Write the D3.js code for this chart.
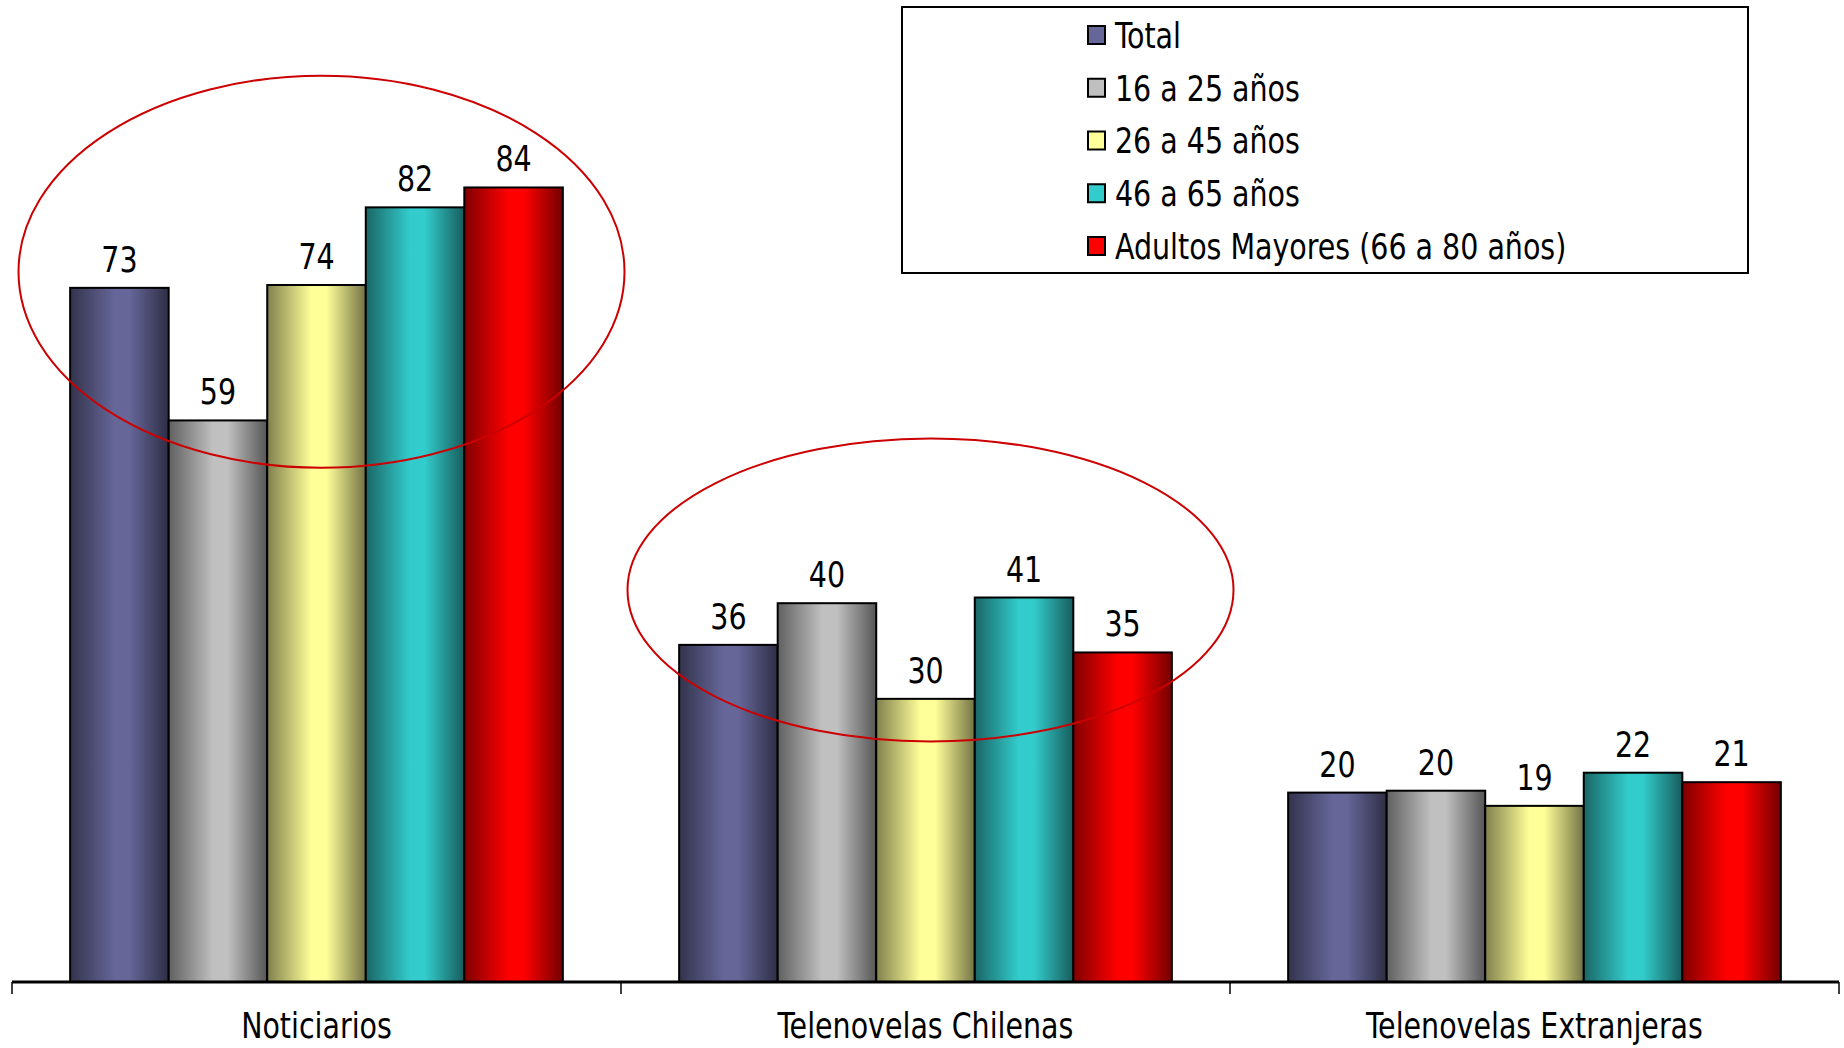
<!DOCTYPE html>
<html>
<head>
<meta charset="utf-8">
<script src="https://cdn.jsdelivr.net/npm/d3@7"></script>
<style>
  html, body { margin: 0; padding: 0; background: #fff; }
  svg { display: block; }
  text { font-family: "DejaVu Sans Condensed", "DejaVu Sans", sans-serif; fill: #000; }
</style>
</head>
<body>
<svg id="chart" width="1844" height="1048"></svg>
<script>
// ---- data ----
const categories = ["Noticiarios", "Telenovelas Chilenas", "Telenovelas Extranjeras"];
const seriesNames = ["Total", "16 a 25 años", "26 a 45 años", "46 a 65 años", "Adultos Mayores (66 a 80 años)"];
const totalValues   = [73.3, 35.6, 20.0];
const age16Values   = [59.3, 40.0, 20.2];
const age26Values   = [73.6, 29.9, 18.6];
const age46Values   = [81.8, 40.6, 22.1];
const mayoresValues = [83.9, 34.8, 21.1];
const seriesValues = [totalValues, age16Values, age26Values, age46Values, mayoresValues];
// highlighted groups (category, value at ellipse centre, vertical half-extent in value units)
const highlights = [
  { cat: "Noticiarios", center: 75, half: 20.7 },
  { cat: "Telenovelas Chilenas", center: 41.4, half: 16.0 }
];

// ---- styles ----
const baseColors = ["#666699", "#c0c0c0", "#ffff99", "#33cccc", "#ff0000"];
const SX = 0.88; // horizontal squeeze of the narrow label font

(function () {
const svg = d3.select("#chart");
const mLeft = 12, mRight = 1839, mTop = 35, mBottom = 982;

const x0 = d3.scaleBand().domain(categories).range([mLeft, mRight]).padding(0);
const x1 = d3.scaleBand().domain(seriesNames).range([0, x0.bandwidth()]).paddingInner(0).paddingOuter(0.59);
const y = d3.scaleLinear().domain([0, 100]).range([mBottom, mTop]);

const place = (x, yy) => `translate(${x},${yy}) scale(${SX},1)`;

// gradients
const defs = svg.append("defs");
seriesNames.forEach((s, i) => {
  const c = d3.color(baseColors[i]);
  const g = defs.append("linearGradient").attr("id", "grad" + i)
    .attr("x1", "0%").attr("x2", "100%").attr("y1", "0%").attr("y2", "0%");
  const dark = d3.interpolateRgb(c, "#000")(0.5);
  const dark2 = d3.interpolateRgb(c, "#000")(0.55);
  g.append("stop").attr("offset", "0%").attr("stop-color", dark);
  g.append("stop").attr("offset", "45%").attr("stop-color", c.formatHex());
  g.append("stop").attr("offset", "60%").attr("stop-color", c.formatHex());
  g.append("stop").attr("offset", "100%").attr("stop-color", dark2);
});

// bars
const rows = [];
categories.forEach((cat, ci) => {
  seriesNames.forEach((s, si) => rows.push({ cat, s, si, v: seriesValues[si][ci] }));
});

svg.append("g").selectAll("rect").data(rows).join("rect")
  .attr("x", d => x0(d.cat) + x1(d.s))
  .attr("y", d => y(d.v))
  .attr("width", x1.bandwidth())
  .attr("height", d => y(0) - y(d.v))
  .attr("fill", d => `url(#grad${d.si})`)
  .attr("stroke", "#000")
  .attr("stroke-width", 2);

// value labels
const fmt = d3.format(".0f");
svg.append("g").selectAll("text").data(rows).join("text")
  .attr("transform", d => place(x0(d.cat) + x1(d.s) + x1.bandwidth() / 2, y(d.v) - 16))
  .attr("text-anchor", "middle")
  .attr("font-size", 36)
  .text(d => fmt(d.v));

// x axis
const axis = svg.append("g").attr("transform", `translate(0,${mBottom})`);
axis.append("line").attr("x1", mLeft).attr("x2", mRight).attr("y1", 0).attr("y2", 0)
  .attr("stroke", "#000").attr("stroke-width", 3);
const bounds = categories.map(c => x0(c)).concat([x0(categories[categories.length - 1]) + x0.bandwidth()]);
axis.selectAll("line.tick").data(bounds).join("line").attr("class", "tick")
  .attr("x1", d => d).attr("x2", d => d).attr("y1", 0).attr("y2", 12)
  .attr("stroke", "#000").attr("stroke-width", 1.5);
axis.selectAll("text").data(categories).join("text")
  .attr("transform", d => place(x0(d) + x0.bandwidth() / 2, 56))
  .attr("text-anchor", "middle")
  .attr("font-size", 36)
  .text(d => d);

// highlight ellipses
svg.append("g").selectAll("ellipse").data(highlights).join("ellipse")
  .attr("cx", d => x0(d.cat) + x0.bandwidth() / 2 + 5)
  .attr("cy", d => y(d.center))
  .attr("rx", 303)
  .attr("ry", d => y(0) - y(d.half))
  .attr("fill", "none")
  .attr("stroke", "#cc0000")
  .attr("stroke-width", 2);

// legend
const lg = svg.append("g");
lg.append("rect").attr("x", 902).attr("y", 7).attr("width", 846).attr("height", 266)
  .attr("fill", "#fff").attr("stroke", "#000").attr("stroke-width", 2);
const rowY = d3.scalePoint().domain(seriesNames).range([35, 246]);
const items = lg.selectAll("g.item").data(seriesNames).join("g").attr("class", "item")
  .attr("transform", d => `translate(1088,${rowY(d)})`);
items.append("rect").attr("x", 0).attr("y", -9).attr("width", 17).attr("height", 18)
  .attr("fill", (d, i) => baseColors[i]).attr("stroke", "#000").attr("stroke-width", 2);
items.append("text").attr("transform", place(27, 0)).attr("dy", "0.36em")
  .attr("font-size", 36).text(d => d);
})();
</script>
</body>
</html>
